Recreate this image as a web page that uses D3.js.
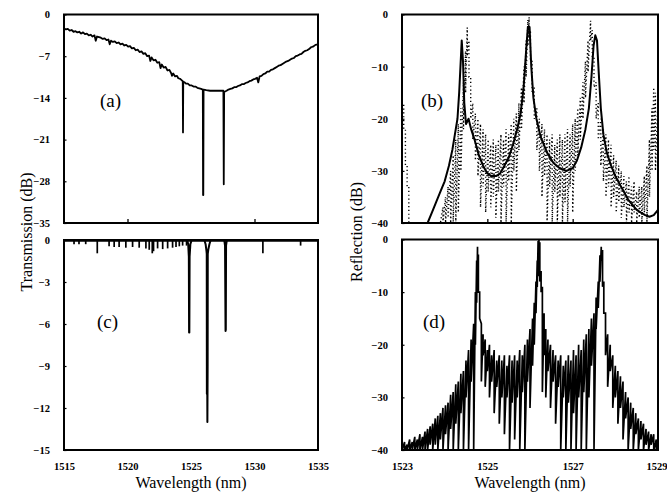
<!DOCTYPE html>
<html><head><meta charset="utf-8">
<script src="https://cdn.jsdelivr.net/npm/d3@7"></script>
<style>
body{margin:0;background:#fff}
svg{display:block}
</style>
</head><body>
<svg id="chart" width="667" height="502"></svg>
<script>
// ---------- DATA ----------
// (a) transmission, broadband curve with three grating dips  [wavelength nm, dB]
const aCurve = [
[1515.0,-2.3],[1515.15,-2.5],[1515.3,-2.4],[1515.45,-2.7],[1515.6,-2.6],[1515.75,-2.9],[1515.9,-2.8],[1516.05,-3.0],[1516.2,-2.9],[1516.35,-3.2],[1516.5,-3.0],[1516.65,-3.3],[1516.8,-3.2],[1516.95,-3.5],[1517.1,-3.4],[1517.25,-3.7],[1517.4,-3.5],[1517.5,-4.4],
[1517.6,-3.7],[1517.75,-3.8],[1517.9,-3.9],[1518.05,-4.1],[1518.2,-4.0],[1518.35,-4.3],[1518.5,-4.2],[1518.6,-5.0],[1518.7,-4.4],[1518.85,-4.6],[1519.0,-4.5],[1519.15,-4.8],[1519.3,-4.7],[1519.45,-5.0],[1519.6,-4.9],[1519.75,-5.2],[1519.9,-5.1],
[1520.05,-5.4],[1520.2,-5.3],[1520.35,-5.7],[1520.5,-5.6],[1520.65,-6.0],[1520.8,-5.9],[1520.95,-6.3],[1521.1,-6.2],[1521.25,-6.6],[1521.4,-6.5],[1521.55,-7.0],[1521.7,-6.9],[1521.8,-7.8],[1521.9,-7.2],[1522.05,-7.7],[1522.2,-7.6],[1522.35,-8.1],[1522.5,-8.0],
[1522.6,-9.0],[1522.7,-8.4],[1522.85,-8.9],[1523.0,-8.8],[1523.15,-9.4],[1523.3,-9.3],[1523.45,-9.9],[1523.5,-10.3],[1523.6,-9.9],[1523.75,-10.4],[1523.9,-10.3],[1524.0,-10.7],[1524.15,-10.8],[1524.3,-11.1],[1524.35,-11.2],[1524.37,-19.8],
[1524.39,-11.3],[1524.5,-11.4],[1524.6,-11.6],[1524.75,-11.6],[1524.9,-11.9],[1525.05,-11.9],[1525.2,-12.1],[1525.35,-12.1],[1525.5,-12.3],[1525.65,-12.4],[1525.8,-12.5],[1525.93,-12.6],[1525.95,-30.3],[1525.97,-30.3],[1525.99,-12.6],
[1526.2,-12.7],[1526.5,-12.8],[1526.8,-12.8],[1527.1,-12.8],[1527.4,-12.8],[1527.55,-12.8],[1527.58,-28.5],[1527.61,-13.0],[1527.8,-12.8],[1527.95,-12.6],[1528.1,-12.5],[1528.25,-12.4],
[1528.4,-12.2],[1528.55,-12.2],[1528.7,-12.0],[1528.85,-11.9],[1529.0,-11.7],[1529.15,-11.7],[1529.3,-11.5],[1529.45,-11.4],[1529.6,-11.2],[1529.75,-11.1],[1529.9,-10.9],[1530.05,-10.8],[1530.2,-10.6],[1530.3,-11.4],[1530.4,-10.4],[1530.55,-10.3],[1530.7,-10.0],
[1530.85,-9.9],[1531.0,-9.6],[1531.15,-9.6],[1531.3,-9.3],[1531.45,-9.2],[1531.6,-9.0],[1531.75,-8.8],[1531.9,-8.6],[1532.05,-8.5],[1532.2,-8.3],[1532.35,-8.1],[1532.5,-7.9],[1532.65,-7.8],[1532.8,-7.6],[1532.95,-7.4],[1533.1,-7.3],[1533.25,-7.0],[1533.4,-6.9],[1533.55,-6.7],[1533.7,-6.6],
[1533.85,-6.3],[1534.0,-6.1],[1534.15,-6.0],[1534.3,-5.8],[1534.45,-5.5],[1534.6,-5.4],[1534.8,-5.1],[1535.0,-5.0]
];
// (c) normalised transmission: small side dips and the three main dips
const cSpikeWl    = [1515.79,1516.18,1516.71,1517.62,1518.55,1518.95,1519.34,1519.87,1520.40,1520.92,1521.45,1521.71,1521.95,1522.05,1522.37,1522.77,1523.16,1523.55,1523.82,1524.08,1524.34,1524.65,1530.66,1533.63];
const cSpikeDepth = [-0.3,-0.3,-0.3,-0.95,-0.45,-0.5,-0.5,-0.55,-0.5,-0.55,-0.6,-0.7,-0.95,-0.8,-0.6,-0.65,-0.6,-0.55,-0.5,-0.45,-0.4,-0.4,-0.95,-0.4];
const cDips = [
[1524.70,0],[1524.78,-0.3],[1524.83,-1.2],[1524.85,-6.6],[1524.87,-6.6],[1524.89,-1.2],[1524.95,-0.3],[1525.05,0],
[1526.05,0],[1526.15,-0.3],[1526.22,-0.8],[1526.24,-1],[1526.25,-11],[1526.27,-8],[1526.29,-13.0],[1526.31,-9],[1526.32,-1],[1526.36,-0.7],[1526.45,-0.3],[1526.55,0],
[1527.62,0],[1527.68,-0.4],[1527.72,-6.5],[1527.74,-6.4],[1527.76,-0.4],[1527.82,0]
];
// (b) reflection: solid trace [wl, dB]
const bSolid = [
[1523.60,-40],[1523.70,-38],[1523.80,-36],[1523.90,-34],[1524.00,-32],[1524.10,-29],[1524.18,-26],[1524.24,-23],[1524.30,-20],[1524.34,-15],
[1524.37,-10],[1524.40,-5],[1524.43,-9],[1524.46,-17],[1524.50,-21],[1524.56,-20],[1524.62,-22],[1524.70,-24],[1524.80,-27],[1524.90,-29],
[1525.00,-30.5],[1525.10,-31],[1525.20,-31],[1525.30,-30.5],[1525.40,-29],[1525.50,-27.5],[1525.60,-25],[1525.70,-22],[1525.78,-19],[1525.85,-14],
[1525.90,-8],[1525.95,-2.4],[1525.99,-2.4],[1526.03,-10],[1526.08,-16],[1526.15,-20],[1526.25,-23.5],[1526.40,-26.5],[1526.55,-28.5],[1526.70,-29.5],
[1526.85,-30],[1527.00,-29.5],[1527.10,-28],[1527.20,-25.5],[1527.30,-22],[1527.38,-18],[1527.44,-12],[1527.49,-6],[1527.53,-4],[1527.57,-5],
[1527.61,-11],[1527.66,-18],[1527.72,-23],[1527.80,-26.5],[1527.90,-29],[1528.00,-31],[1528.10,-32.5],[1528.20,-34],[1528.30,-35.5],[1528.40,-36.5],
[1528.50,-37.5],[1528.60,-38],[1528.70,-38.5],[1528.80,-38.8],[1528.90,-38.5],[1529.00,-37.5]
];
// (b) reflection: dotted trace, fast fringes as [wl, upper dB, lower dB]
const bDotted = [
[1523.00,-14,-17],[1523.04,-17,-22],[1523.08,-22,-29],[1523.12,-29,-33],[1523.16,-33,-40],[1523.20,-40,-40],[1523.90,-40,-40],[1523.96,-37,-40],[1524.02,-35,-40],[1524.08,-33,-39],
[1524.14,-30,-40],[1524.20,-27,-40],[1524.26,-24,-40],[1524.32,-21,-38],[1524.38,-18,-30],[1524.44,-13,-22],[1524.49,-7,-15],[1524.53,-2.5,-8],[1524.57,-5,-12],[1524.61,-12,-20],
[1524.66,-17,-24],[1524.72,-19,-28],[1524.78,-20,-31],[1524.84,-21,-37],[1524.90,-22,-33],[1524.96,-23,-38],[1525.02,-24,-34],[1525.08,-25,-37],[1525.14,-24,-35],[1525.20,-25,-39],
[1525.26,-24,-34],[1525.32,-23,-40],[1525.38,-24,-33],[1525.44,-22,-40],[1525.50,-23,-32],[1525.56,-21,-40],[1525.62,-20,-30],[1525.68,-19,-34],[1525.74,-17,-26],[1525.80,-14,-22],
[1525.86,-10,-17],[1525.91,-5,-12],[1525.95,-1,-6],[1525.98,-0.5,-4],[1526.01,-3,-9],[1526.05,-9,-15],[1526.10,-14,-20],[1526.16,-18,-26],[1526.22,-20,-30],[1526.28,-21,-35],
[1526.34,-22,-31],[1526.40,-23,-40],[1526.46,-24,-33],[1526.52,-23,-40],[1526.58,-25,-34],[1526.64,-24,-40],[1526.70,-23,-35],[1526.76,-24,-40],[1526.82,-23,-36],[1526.88,-22,-40],
[1526.94,-23,-33],[1527.00,-21,-38],[1527.06,-20,-30],[1527.12,-18,-27],[1527.18,-16,-24],[1527.24,-13,-20],[1527.30,-9,-16],[1527.36,-5,-11],[1527.42,-1.2,-5],[1527.46,-3,-8],
[1527.50,-8,-14],[1527.55,-13,-20],[1527.60,-17,-24],[1527.66,-20,-29],[1527.72,-22,-32],[1527.78,-23,-35],[1527.84,-24,-33],[1527.90,-25,-37],[1527.96,-27,-35],[1528.02,-28,-38],
[1528.08,-29,-36],[1528.14,-30,-39],[1528.20,-31,-37],[1528.26,-32,-40],[1528.32,-31,-38],[1528.38,-33,-40],[1528.44,-32,-38],[1528.50,-34,-40],[1528.56,-33,-39],[1528.62,-33,-40],
[1528.68,-31,-38],[1528.74,-29,-40],[1528.80,-24,-35],[1528.86,-18,-30],[1528.90,-14,-26],[1528.94,-15,-30],[1529.00,-16,-32]
];
// (d) reflection: measured trace, fast fringes as [wl, upper dB, lower dB]
const dTrace = [
[1523.00,-39,-40],[1523.06,-38.5,-40],[1523.12,-39,-40],[1523.18,-38,-40],[1523.24,-38.5,-40],[1523.30,-37.5,-40],[1523.36,-38,-40],[1523.42,-37,-40],[1523.48,-37.5,-40],[1523.54,-36.5,-40],
[1523.60,-36,-40],[1523.66,-35.5,-39],[1523.72,-35,-40],[1523.78,-34,-39],[1523.84,-33.5,-40],[1523.90,-33,-38],[1523.96,-32,-40],[1524.02,-31.5,-37],[1524.08,-31,-40],[1524.14,-29.5,-36],
[1524.20,-29,-40],[1524.26,-27.5,-35],[1524.32,-27,-40],[1524.38,-25.5,-33],[1524.44,-25,-40],[1524.50,-23,-30],[1524.56,-21,-40],[1524.62,-19,-27],[1524.68,-16,-40],[1524.72,-10,-20],
[1524.75,-4,-12],[1524.77,-1.4,-3],[1524.79,-3,-10],[1524.82,-10,-15],[1524.86,-16,-27],[1524.90,-18,-22],[1524.95,-19,-28],[1525.00,-21,-25],[1525.05,-20,-30],[1525.10,-22,-27],
[1525.16,-21,-33],[1525.22,-23,-28],[1525.28,-22,-35],[1525.34,-23,-30],[1525.40,-22,-37],[1525.46,-24,-30],[1525.52,-22,-40],[1525.58,-23,-31],[1525.64,-22,-38],[1525.70,-23,-30],
[1525.76,-21,-40],[1525.82,-22,-29],[1525.88,-20,-40],[1525.94,-19,-27],[1526.00,-17,-32],[1526.06,-15,-24],[1526.10,-12,-20],[1526.14,-8,-14],[1526.17,-4,-9],[1526.19,-0.3,-7],
[1526.21,0,-6],[1526.23,-0.5,-8],[1526.26,-6,-10],[1526.29,-9,-29],[1526.33,-14,-22],[1526.37,-17,-30],[1526.42,-19,-25],[1526.48,-20,-32],[1526.54,-21,-27],[1526.60,-22,-35],
[1526.66,-23,-28],[1526.72,-22,-40],[1526.78,-24,-30],[1526.84,-23,-40],[1526.90,-22,-31],[1526.96,-23,-40],[1527.02,-21,-33],[1527.08,-22,-40],[1527.14,-20,-30],[1527.20,-21,-40],
[1527.26,-19,-29],[1527.32,-18,-40],[1527.38,-17,-30],[1527.44,-15,-24],[1527.50,-14,-40],[1527.55,-11,-17],[1527.60,-8,-13],[1527.64,-3,-8],[1527.67,-1.4,-4],[1527.70,-2,-9],
[1527.73,-8,-14],[1527.77,-14,-22],[1527.82,-18,-28],[1527.88,-20,-25],[1527.94,-22,-32],[1528.00,-24,-30],[1528.06,-25,-35],[1528.12,-26,-32],[1528.18,-27,-38],[1528.24,-29,-34],
[1528.30,-30,-40],[1528.36,-31,-36],[1528.42,-32,-40],[1528.48,-33,-37],[1528.54,-34,-40],[1528.60,-34.5,-38],[1528.66,-35,-40],[1528.72,-36,-39],[1528.78,-36.5,-40],[1528.84,-37,-39],
[1528.90,-37,-40],[1528.96,-38,-40],[1529.00,-38,-40]
];
// tick values / labels
const aYTicks = [0,-7,-14,-21,-28,-35];
const cYTicks = [0,-3,-6,-9,-12,-15];
const bdYTicks = [0,-10,-20,-30,-40];
const acXTicks = [1515,1520,1525,1530,1535];
const aXMarks = [1520,1530];
const bdXTicks = [1523,1525,1527,1529];
const bXMarks = [1525,1527];
const panelLabels = ["(a)","(b)","(c)","(d)"];

// ---------- LAYOUT ----------
const SERIF = "'Liberation Serif','Times New Roman',serif";
const svg = d3.select("#chart");
const P = {
  a:{x0:64,x1:318,y0:14.5,y1:223,xd:[1515,1535],yd:[-35,0]},
  c:{x0:64,x1:318,y0:240,y1:450,xd:[1515,1535],yd:[-15,0]},
  b:{x0:402,x1:658,y0:14.5,y1:223,xd:[1523,1529],yd:[-40,0]},
  d:{x0:402,x1:658,y0:239.5,y1:450,xd:[1523,1529],yd:[-40,0]}
};
Object.entries(P).forEach(([k,p])=>{
  p.x = d3.scaleLinear().domain(p.xd).range([p.x0,p.x1]);
  p.y = d3.scaleLinear().domain(p.yd).range([p.y1,p.y0]);
  svg.append("clipPath").attr("id","clip"+k).append("rect")
    .attr("x",p.x0).attr("y",p.y0).attr("width",p.x1-p.x0).attr("height",p.y1-p.y0);
  p.g = svg.append("g").attr("clip-path","url(#clip"+k+")");
});

function styleTicks(g){
  g.attr("font-family",null).attr("font-size",null);
  g.selectAll("text").style("font-family",SERIF).style("font-size","10.5px")
    .style("font-weight","bold").attr("fill","#000");
}
function yAxis(p, ticks){
  const g = svg.append("g").attr("transform",`translate(${p.x0},0)`)
    .call(d3.axisLeft(p.y).tickValues(ticks).tickSize(-2.5).tickPadding(14).tickFormat(d3.format("d")));
  g.select(".domain").remove();
  g.selectAll("line").attr("stroke","#000").attr("stroke-width",1.2);
  styleTicks(g);
}
function xAxis(p, ticks, labels){
  const g = svg.append("g").attr("transform",`translate(0,${p.y1})`)
    .call(d3.axisBottom(p.x).tickValues(ticks).tickSize(labels?0:-4).tickPadding(13).tickFormat(labels?d3.format("d"):""));
  g.select(".domain").remove();
  g.selectAll("line").attr("stroke","#000").attr("stroke-width",1.3);
  styleTicks(g);
  return g;
}
yAxis(P.a,aYTicks); yAxis(P.c,cYTicks); yAxis(P.b,bdYTicks); yAxis(P.d,bdYTicks);
xAxis(P.a,aXMarks,false); xAxis(P.b,bXMarks,false);
xAxis(P.c,acXTicks,true);
const gdx = xAxis(P.d,bdXTicks,true);
gdx.selectAll("text").filter(d=>d===1529).attr("text-anchor","end").attr("dx","9");

// ---------- TRACES ----------
function zig(p, tr){
  const pts=[];
  tr.forEach(([w,h,l])=>{ pts.push([p.x(w),p.y(h)]); if(l!==h) pts.push([p.x(w),p.y(l)]); });
  return d3.line()(pts);
}
// (a)
P.a.g.append("path").attr("d", d3.line().x(d=>P.a.x(d[0])).y(d=>P.a.y(d[1]))(aCurve))
  .attr("fill","none").attr("stroke","#000").attr("stroke-width",1.8).attr("stroke-linejoin","round");
// (c)
P.c.g.append("line").attr("x1",P.c.x0).attr("x2",P.c.x1).attr("y1",P.c.y(0)+1).attr("y2",P.c.y(0)+1)
  .attr("stroke","#000").attr("stroke-width",1.5);
P.c.g.selectAll("line.sp").data(cSpikeWl).enter().append("line")
  .attr("x1",d=>P.c.x(d)).attr("x2",d=>P.c.x(d))
  .attr("y1",P.c.y(0)).attr("y2",(d,i)=>P.c.y(cSpikeDepth[i]))
  .attr("stroke","#000").attr("stroke-width",1.7);
P.c.g.append("path").attr("d", d3.line().x(d=>P.c.x(d[0])).y(d=>P.c.y(d[1]))(cDips))
  .attr("fill","none").attr("stroke","#000").attr("stroke-width",2).attr("stroke-linejoin","round");
// (b)
P.b.g.append("path").attr("d", zig(P.b,bDotted))
  .attr("fill","none").attr("stroke","#000").attr("stroke-width",1.4).attr("stroke-dasharray","1.2 2.6");
P.b.g.append("path").attr("d", d3.line().x(d=>P.b.x(d[0])).y(d=>P.b.y(d[1]))(bSolid))
  .attr("fill","none").attr("stroke","#000").attr("stroke-width",2).attr("stroke-linejoin","round");
// (d)
P.d.g.append("path").attr("d", zig(P.d,dTrace))
  .attr("fill","none").attr("stroke","#000").attr("stroke-width",1.7).attr("stroke-linejoin","miter");

// ---------- FRAMES & TEXT ----------
Object.values(P).forEach(p=>{
  svg.append("rect").attr("x",p.x0).attr("y",p.y0).attr("width",p.x1-p.x0).attr("height",p.y1-p.y0)
    .attr("fill","none").attr("stroke","#000").attr("stroke-width",2);
});
function txt(){ return svg.append("text").style("font-family",SERIF).attr("fill","#000"); }
const lab = [[100,107],[421,107],[97,328],[423,328]];
panelLabels.forEach((t,i)=>{
  txt().attr("x",lab[i][0]).attr("y",lab[i][1]).style("font-size","19px").text(t);
});
txt().attr("transform","translate(32,232) rotate(-90)").attr("text-anchor","middle")
  .style("font-size","16px").text("Transmission (dB)");
txt().attr("transform","translate(362,232) rotate(-90)").attr("text-anchor","middle")
  .style("font-size","16px").text("Reflection (dB)");
txt().attr("x",191).attr("y",488).attr("text-anchor","middle").style("font-size","16px").text("Wavelength (nm)");
txt().attr("x",530).attr("y",488).attr("text-anchor","middle").style("font-size","16px").text("Wavelength (nm)");
</script>
</body></html>
